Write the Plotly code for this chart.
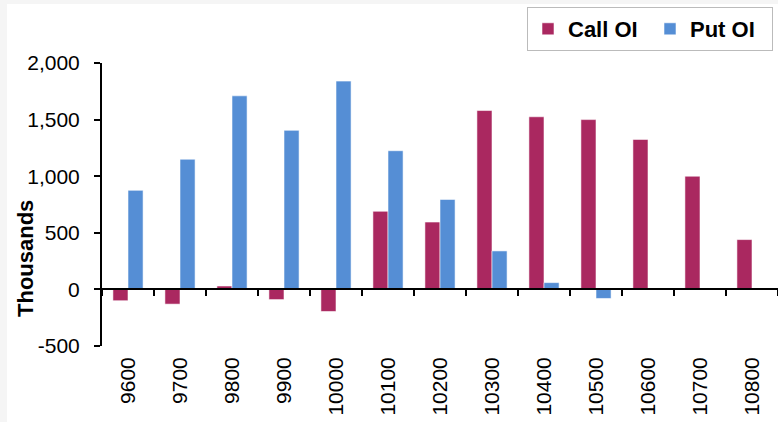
import plotly.graph_objects as go

# Strike prices and open interest (thousands of contracts)
strikes = ["9600", "9700", "9800", "9900", "10000", "10100", "10200",
           "10300", "10400", "10500", "10600", "10700", "10800"]
call_oi = [-100, -130, 30, -90, -195, 690, 595, 1580, 1525, 1500, 1325, 1000, 440]
put_oi = [875, 1150, 1710, 1405, 1840, 1225, 795, 340, 60, -80, 10, 3, 0]

y_ticks = [-500, 0, 500, 1000, 1500, 2000]
y_tick_labels = ["-500", "0", "500", "1,000", "1,500", "2,000"]

W, H = 778, 422
ML, MR, MT, MB = 102, 0, 63, 76
plot_w = W - ML - MR
plot_h = H - MT - MB


def px_x(px):
    return (px - ML) / plot_w


def px_y(py):
    return (H - MB - py) / plot_h


FONT = "Liberation Sans, Arial, sans-serif"
CALL_COLOR = "#AA2860"
PUT_COLOR = "#558ED5"
x_range = [-0.5, len(strikes) - 0.5]

fig = go.Figure()
fig.add_trace(go.Bar(
    x=strikes, y=call_oi, name="Call OI",
    marker=dict(color=CALL_COLOR, line=dict(color="rgba(255,255,255,0.55)", width=1)),
))
fig.add_trace(go.Bar(
    x=strikes, y=put_oi, name="Put OI",
    marker=dict(color=PUT_COLOR, line=dict(color="rgba(255,255,255,0.55)", width=1)),
))
# carrier for the category axis drawn along the zero line
fig.add_trace(go.Scatter(
    x=strikes, y=[0] * len(strikes), xaxis="x2", mode="lines",
    line=dict(width=0), opacity=0, showlegend=False, hoverinfo="skip",
))

fig.update_layout(
    width=W, height=H,
    margin=dict(l=ML, r=MR, t=MT, b=MB, autoexpand=False),
    paper_bgcolor="#F5F5F5",
    plot_bgcolor="white",
    font=dict(family=FONT, size=21, color="black"),
    barmode="group", bargap=0.42, bargroupgap=0,
    showlegend=True,
    legend=dict(
        orientation="h", xanchor="left", x=px_x(527), yanchor="top", y=px_y(7),
        bgcolor="white", bordercolor="#BBBBBB", borderwidth=1,
        font=dict(family=FONT, size=22, weight="bold", color="black"),
        entrywidth=77, itemclick=False,
    ),
    xaxis=dict(
        type="category", categoryorder="array", categoryarray=strikes,
        range=x_range, autorange=False,
        showline=False, ticks="", showgrid=False, zeroline=False,
        tickangle=-90, ticklabelstandoff=6,
        tickfont=dict(family=FONT, size=21, color="black"),
    ),
    xaxis2=dict(
        type="category", categoryorder="array", categoryarray=strikes,
        range=x_range, autorange=False,
        overlaying="x", anchor="free", position=0.2,
        showline=True, linecolor="black", linewidth=2,
        ticks="outside", tickson="boundaries", ticklen=6, tickwidth=2, tickcolor="black",
        showticklabels=False, showgrid=False, zeroline=False,
    ),
    yaxis=dict(
        range=[-500, 2000], tickvals=y_ticks, ticktext=y_tick_labels,
        showline=True, linecolor="black", linewidth=2,
        ticks="outside", ticklen=6, tickwidth=2, tickcolor="black",
        showgrid=False, zeroline=False, ticklabelstandoff=10,
        tickfont=dict(family=FONT, size=21, color="black"),
    ),
    shapes=[dict(
        type="rect", xref="paper", yref="paper", layer="below",
        x0=px_x(7), x1=px_x(W + 5), y0=px_y(4), y1=px_y(H + 5),
        fillcolor="white", line=dict(width=0),
    )],
    annotations=[dict(
        text="Thousands", textangle=-90, xref="paper", yref="paper",
        x=px_x(25), y=px_y(259), xanchor="center", yanchor="middle",
        showarrow=False, font=dict(family=FONT, size=22, weight="bold", color="black"),
    )],
)

fig.write_html("out.html")
